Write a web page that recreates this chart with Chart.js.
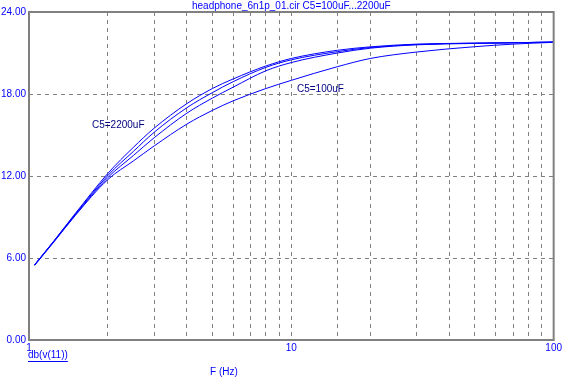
<!DOCTYPE html>
<html>
<head>
<meta charset="utf-8">
<script src="https://cdn.jsdelivr.net/npm/chart.js@4/dist/chart.umd.min.js"></script>
<style>
  html, body { margin: 0; padding: 0; background: #fff; }
  #wrap { width: 564px; height: 378px; }
</style>
</head>
<body>
<div id="wrap"><canvas id="myChart" width="564" height="378"></canvas></div>
<script>
// frequency points (Hz)
let freqs = [1.05, 1.25, 1.5, 2, 2.5, 3, 4, 5, 6, 8, 10, 15, 20, 30, 50, 70, 100];

// db(v(11)) for each C5 value
let c5_2200 = [5.5, 7.3, 9.25, 12.2, 14.1, 15.5, 17.3, 18.4, 19.1, 20.05, 20.6, 21.2, 21.45, 21.65, 21.72, 21.75, 21.8];
let c5_1000 = [5.5, 7.28, 9.2, 12.05, 13.8, 15.2, 17.0, 18.1, 18.9, 19.95, 20.5, 21.1, 21.4, 21.62, 21.72, 21.75, 21.8];
let c5_470 = [5.48, 7.25, 9.15, 11.9, 13.5, 14.8, 16.6, 17.7, 18.5, 19.7, 20.3, 21.0, 21.35, 21.6, 21.7, 21.75, 21.8];
let c5_100 = [5.45, 7.22, 9.1, 11.75, 13.1, 14.2, 15.8, 16.8, 17.5, 18.4, 19.0, 20.0, 20.6, 21.07, 21.46, 21.65, 21.78];

let x_labels = [1, 10, 100];
let y_ticks = [0, 6, 12, 18, 24];

function toPoints(values) {
  return values.map((v, i) => ({ x: freqs[i], y: v }));
}

let font = "'Liberation Sans', Arial, sans-serif";

let textPlugin = {
  id: 'texts',
  afterDraw(chart) {
    let ctx = chart.ctx;
    let area = chart.chartArea;
    ctx.save();
    // plot frame
    ctx.strokeStyle = '#808080';
    ctx.lineWidth = 2;
    ctx.setLineDash([]);
    ctx.strokeRect(area.left, area.top, area.right - area.left, area.bottom - area.top);

    ctx.font = '10px ' + font;
    ctx.fillStyle = '#0000ff';
    ctx.textBaseline = 'middle';
    ctx.textAlign = 'center';
    ctx.fillText('headphone_6n1p_01.cir C5=100uF...2200uF', (area.left + area.right) / 2, 6);
    ctx.fillText('F (Hz)', 224, 372);

    ctx.textAlign = 'left';
    let lab = 'db(v(11))';
    ctx.fillText(lab, 28, 355);
    let w = ctx.measureText(lab).width;
    ctx.strokeStyle = '#0000ff';
    ctx.lineWidth = 1;
    ctx.beginPath();
    ctx.moveTo(28, 361.5);
    ctx.lineTo(28 + w, 361.5);
    ctx.stroke();

    ctx.fillStyle = '#000080';
    ctx.fillText('C5=2200uF', 92, 125);
    ctx.fillText('C5=100uF', 297, 89);
    ctx.restore();
  }
};

let lineStyle = {
  borderColor: '#0000ff',
  borderWidth: 1,
  pointRadius: 0,
  fill: false,
  cubicInterpolationMode: 'monotone'
};

let myChart = document.getElementById('myChart').getContext('2d');
let line_chart = new Chart(myChart, {
  type: 'line',
  data: {
    datasets: [
      Object.assign({ label: 'C5=2200uF', data: toPoints(c5_2200) }, lineStyle),
      Object.assign({ label: 'C5=1000uF', data: toPoints(c5_1000) }, lineStyle),
      Object.assign({ label: 'C5=470uF', data: toPoints(c5_470) }, lineStyle),
      Object.assign({ label: 'C5=100uF', data: toPoints(c5_100) }, lineStyle)
    ]
  },
  options: {
    responsive: false,
    animation: false,
    layout: { padding: { top: 12, right: 10, left: 0, bottom: 0 } },
    plugins: {
      legend: { display: false },
      tooltip: { enabled: false }
    },
    scales: {
      x: {
        type: 'logarithmic',
        min: 1,
        max: 100,
        afterFit: scale => { scale.height = 38; },
        grid: {
          drawTicks: false,
          color: c => (c.tick && (c.tick.value === 1 || c.tick.value === 100)) ? 'rgba(0,0,0,0)' : '#808080',
          lineWidth: 1
        },
        border: { display: false, dash: [4, 4] },
        ticks: {
          autoSkip: false,
          maxRotation: 0,
          padding: 2,
          color: '#0000ff',
          font: { family: font, size: 10 },
          callback: v => x_labels.includes(v) ? String(v) : ''
        }
      },
      y: {
        min: 0,
        max: 24,
        afterFit: scale => { scale.width = 29; },
        afterBuildTicks: scale => { scale.ticks = y_ticks.map(v => ({ value: v })); },
        grid: {
          drawTicks: false,
          color: c => (c.tick && (c.tick.value === 0 || c.tick.value === 24)) ? 'rgba(0,0,0,0)' : '#808080',
          lineWidth: 1
        },
        border: { display: false, dash: [4, 4] },
        ticks: {
          padding: 3,
          color: '#0000ff',
          font: { family: font, size: 10 },
          callback: v => Number(v).toFixed(2)
        }
      }
    }
  },
  plugins: [textPlugin]
});
</script>
</body>
</html>
